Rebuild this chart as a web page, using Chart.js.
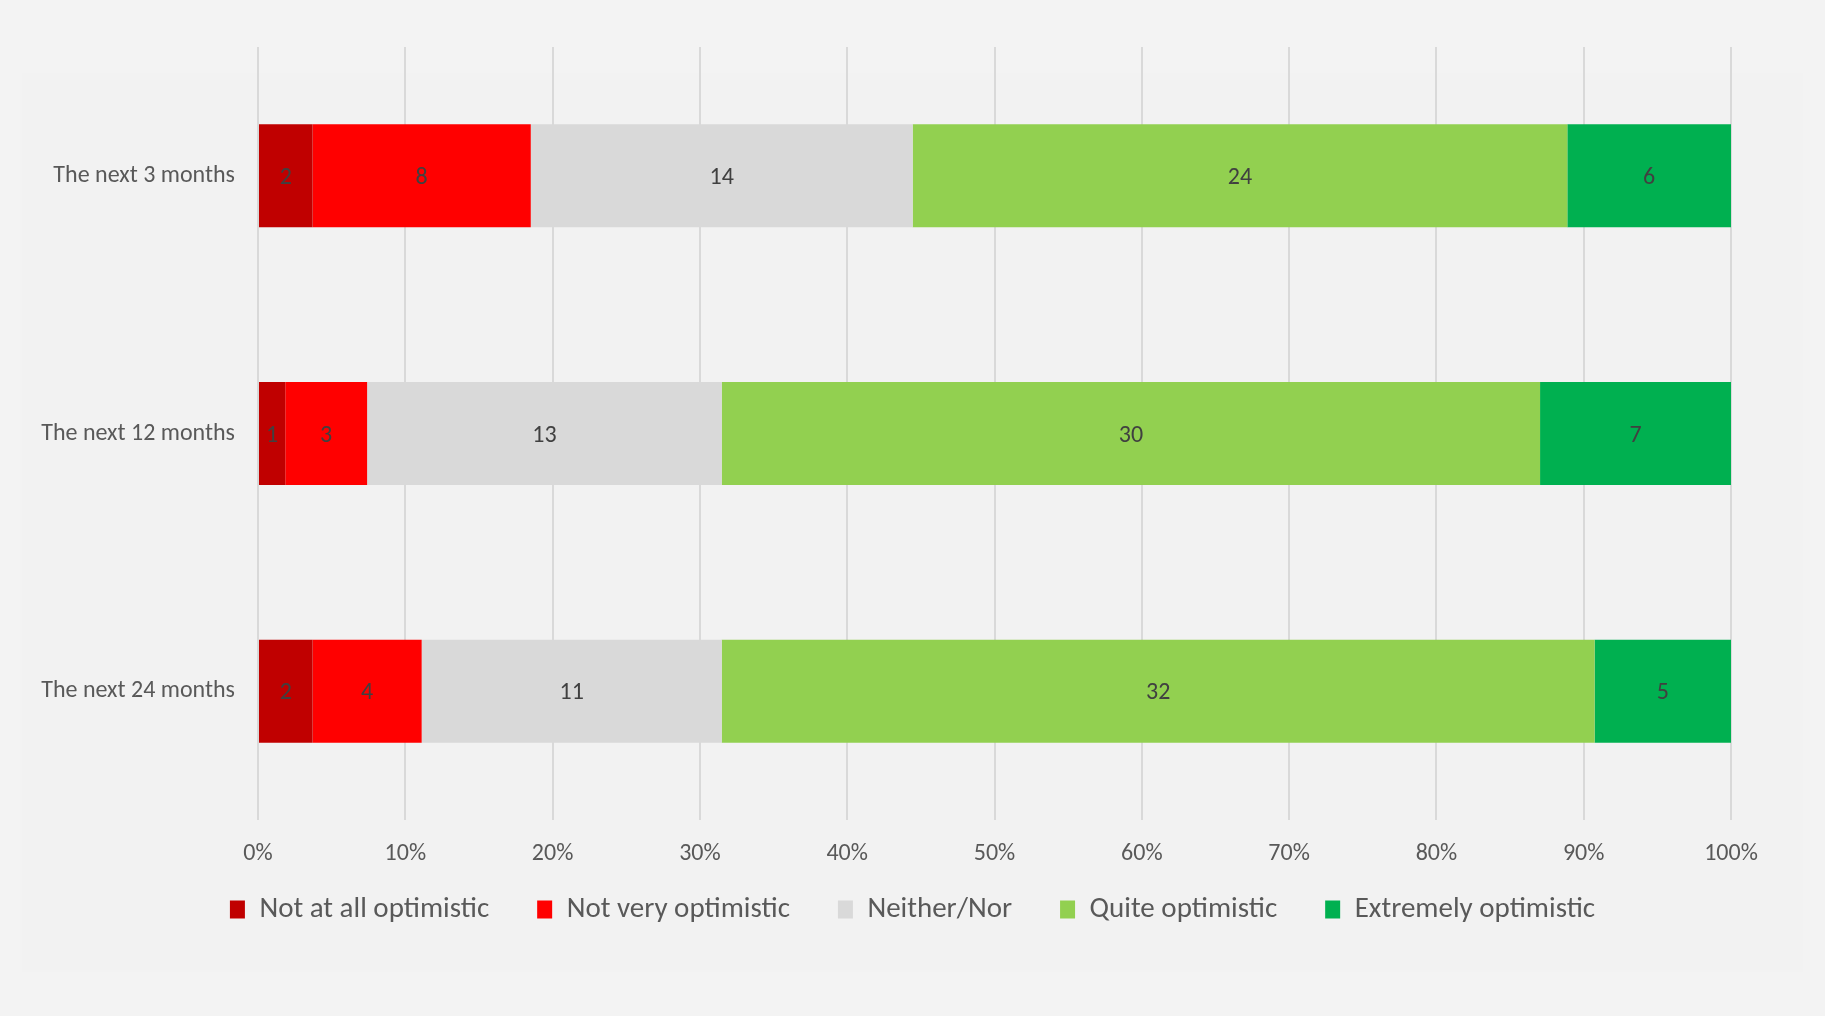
<!DOCTYPE html>
<html>
<head>
<meta charset="utf-8">
<script src="https://cdn.jsdelivr.net/npm/chart.js@4.4.1/dist/chart.umd.min.js"></script>
<style>
  html, body { margin: 0; padding: 0; background: #f3f3f3; }
  #wrap { width: 1825px; height: 1016px; }
</style>
</head>
<body>
<div id="wrap"><canvas id="myChart" width="1825" height="1016"></canvas></div>
<script>
var categories = ['The next 3 months', 'The next 12 months', 'The next 24 months'];
var seriesNames = ['Not at all optimistic', 'Not very optimistic', 'Neither/Nor', 'Quite optimistic', 'Extremely optimistic'];
var seriesColors = ['#c00000', '#ff0000', '#d9d9d9', '#92d050', '#00b050'];

// counts
var notAtAll   = [2, 1, 2];
var notVery    = [8, 3, 4];
var neitherNor = [14, 13, 11];
var quite      = [24, 30, 32];
var extremely  = [6, 7, 5];

var tickValues = [0, 10, 20, 30, 40, 50, 60, 70, 80, 90, 100];

var seriesCounts = [notAtAll, notVery, neitherNor, quite, extremely];

var totals = categories.map(function(c, i) {
    var sum = 0;
    for (var s = 0; s < seriesCounts.length; s++) sum += seriesCounts[s][i];
    return sum;
});

var datasets = seriesCounts.map(function(counts, s) {
    return {
        label: seriesNames[s],
        data: counts.map(function(v, i) { return v / totals[i] * 100; }),
        counts: counts,
        backgroundColor: seriesColors[s],
        borderWidth: 0,
        categoryPercentage: 0.4,
        barPercentage: 1.0
    };
});

var FONT = 'Carlito, Lato, "Open Sans", sans-serif';

// faint inner panel behind the chart
var panel = {
    id: 'panel',
    beforeDraw: function(chart) {
        var ctx = chart.ctx;
        ctx.save();
        ctx.fillStyle = '#f2f2f2';
        ctx.fillRect(22, 73, 1781, 899);
        ctx.restore();
    }
};

// draw the count in the middle of every segment
var segmentLabels = {
    id: 'segmentLabels',
    afterDatasetsDraw: function(chart) {
        var ctx = chart.ctx;
        ctx.save();
        ctx.font = '24px ' + FONT;
        ctx.fillStyle = '#404040';
        ctx.textAlign = 'center';
        ctx.textBaseline = 'middle';
        chart.data.datasets.forEach(function(ds, di) {
            var meta = chart.getDatasetMeta(di);
            meta.data.forEach(function(bar, i) {
                var left = Math.min(bar.x, bar.base);
                var right = Math.max(bar.x, bar.base);
                ctx.fillText(String(ds.counts[i]), (left + right) / 2, bar.y + 2);
            });
        });
        ctx.restore();
    }
};

// pull the legend a bit closer to the axis labels
var legendShift = {
    id: 'legendShift',
    afterLayout: function(chart) {
        chart.legend.top -= 23;
        chart.legend.bottom -= 23;
    }
};

var ctx = document.getElementById('myChart').getContext('2d');
var myChart = new Chart(ctx, {
    type: 'bar',
    data: {
        labels: categories,
        datasets: datasets
    },
    plugins: [panel, segmentLabels, legendShift],
    options: {
        indexAxis: 'y',
        responsive: false,
        animation: false,
        layout: {
            padding: { top: 47, right: 0, left: 0, bottom: 59 }
        },
        plugins: {
            tooltip: { enabled: false },
            legend: {
                position: 'bottom',
                labels: {
                    boxWidth: 15,
                    boxHeight: 18,
                    padding: 48,
                    color: '#595959',
                    font: { family: FONT, size: 29 }
                }
            }
        },
        scales: {
            x: {
                stacked: true,
                min: 0,
                max: 100,
                afterBuildTicks: function(scale) {
                    scale.ticks = tickValues.map(function(v) { return { value: v }; });
                },
                afterFit: function(scale) { scale.height = 50; },
                grid: { color: '#d9d9d9', lineWidth: 2, drawTicks: false },
                border: { display: false },
                ticks: {
                    padding: 20,
                    color: '#595959',
                    font: { family: FONT, size: 24 },
                    callback: function(v) { return v + '%'; }
                }
            },
            y: {
                stacked: true,
                grid: { display: false },
                border: { display: false },
                afterFit: function(scale) { scale.width = 258; },
                ticks: {
                    padding: 15,
                    color: '#595959',
                    font: { family: FONT, size: 24 }
                }
            },
            // empty right-hand spacer so the legend stays centred on the page
            spacer: {
                type: 'category',
                position: 'right',
                grid: { display: false },
                border: { display: false },
                ticks: { display: false },
                afterFit: function(scale) { scale.width = 94; }
            }
        }
    }
});
</script>
</body>
</html>
